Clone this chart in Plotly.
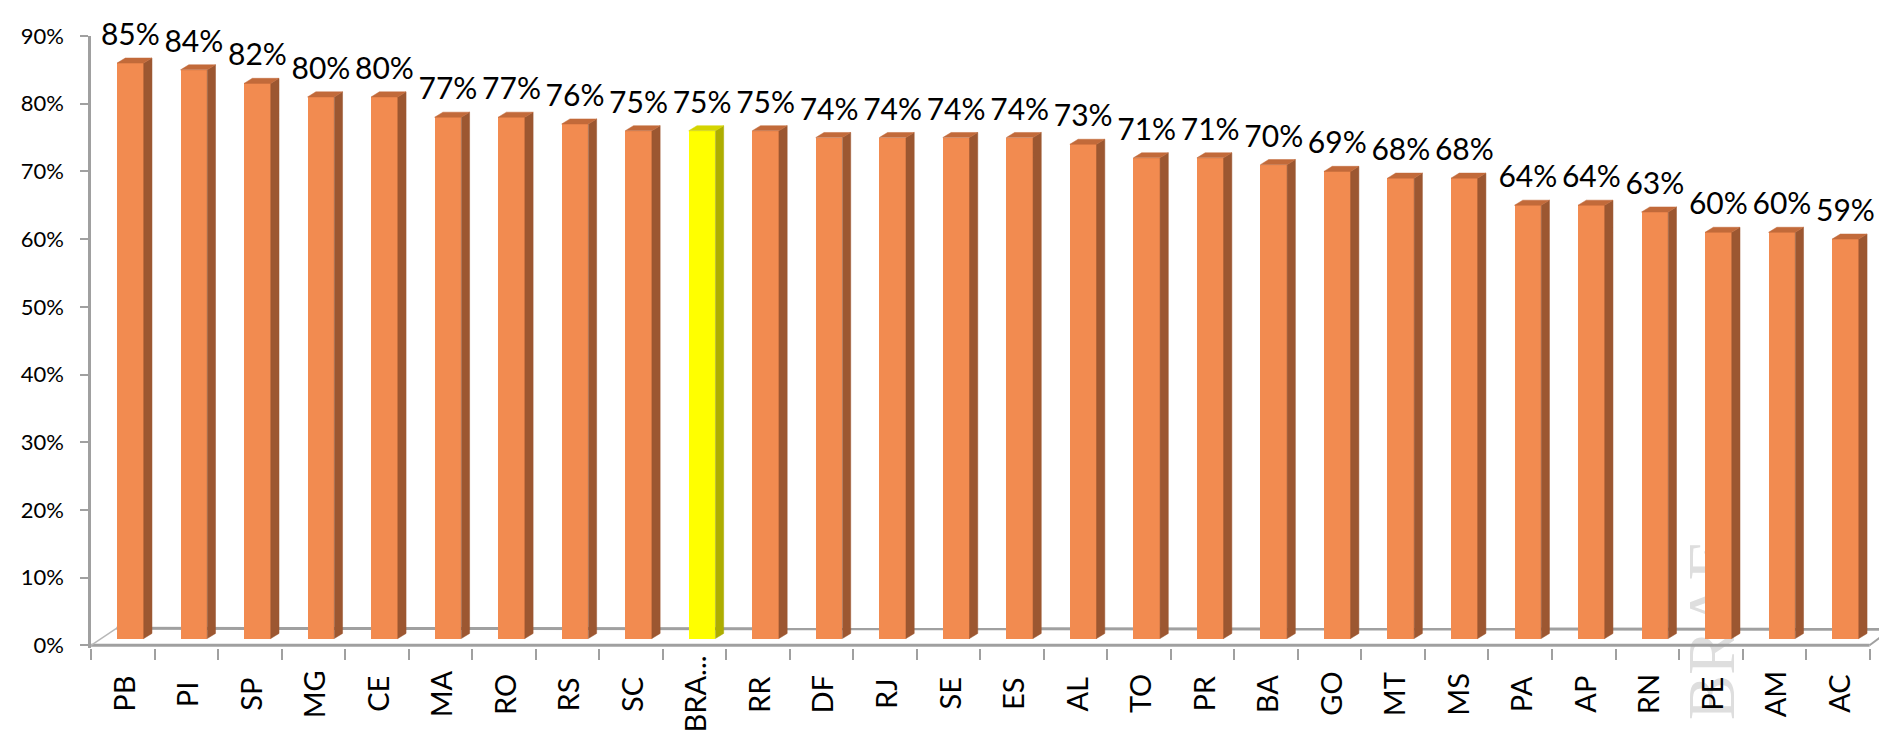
import plotly.graph_objects as go

# ---- data ----
states = ["PB", "PI", "SP", "MG", "CE", "MA", "RO", "RS", "SC", "BRA...",
          "RR", "DF", "RJ", "SE", "ES", "AL", "TO", "PR", "BA", "GO",
          "MT", "MS", "PA", "AP", "RN", "PE", "AM", "AC"]
values = [85, 84, 82, 80, 80, 77, 77, 76, 75, 75,
          75, 74, 74, 74, 74, 73, 71, 71, 70, 69,
          68, 68, 64, 64, 63, 60, 60, 59]
highlight = "BRA..."
y_ticks = [0, 10, 20, 30, 40, 50, 60, 70, 80, 90]
watermark = "BRAE"

# ---- style / geometry (pseudo 3D) ----
FRONT_OFF = 0.12   # shift of front face from category centre
FRONT_W = 0.42     # front face width (category units)
SIDE_W = 0.13      # depth in x (category units)
TOP_H = 0.75       # depth in y (value units)
BASE = 1.0         # bars stand slightly back on the floor
FLOOR_D = 2.5      # floor depth in value units
FLOOR_DX = 0.4

ORANGE = dict(front="#F28B50", side="#9C5731", top="#C26A3A")
YELLOW = dict(front="#FFFF00", side="#ADAD00", top="#D4D400")
GRID = "#A0A0A0"
FONT = "Lato"

n = len(states)
xs = list(range(n))
pal = [YELLOW if s == highlight else ORANGE for s in states]

fig = go.Figure()

# front faces
fig.add_trace(go.Bar(
    x=[i + FRONT_OFF for i in xs], y=values, base=BASE, width=FRONT_W,
    marker=dict(color=[p["front"] for p in pal], line=dict(width=0)),
    hoverinfo="skip", showlegend=False))

# side and top faces, grouped by colour
for p in (ORANGE, YELLOW):
    sx, sy, tx, ty = [], [], [], []
    for i, v, q in zip(xs, values, pal):
        if q is not p:
            continue
        xr = i + FRONT_OFF + FRONT_W / 2
        xl = xr - FRONT_W
        top = BASE + v
        sx += [xr, xr + SIDE_W, xr + SIDE_W, xr, xr, None]
        sy += [BASE, BASE + TOP_H, top + TOP_H, top, BASE, None]
        tx += [xl, xr, xr + SIDE_W, xl + SIDE_W, xl, None]
        ty += [top, top, top + TOP_H, top + TOP_H, top, None]
    fig.add_trace(go.Scatter(x=sx, y=sy, mode="lines", fill="toself",
                             fillcolor=p["side"], line=dict(width=0.5, color=p["side"]),
                             hoverinfo="skip", showlegend=False))
    fig.add_trace(go.Scatter(x=tx, y=ty, mode="lines", fill="toself",
                             fillcolor=p["top"], line=dict(width=0.5, color=p["top"]),
                             hoverinfo="skip", showlegend=False))

# value labels
fig.add_trace(go.Scatter(
    x=[i + FRONT_OFF for i in xs], y=[BASE + v + TOP_H + 0.8 for v in values],
    mode="text", text=[f"{v}%" for v in values], textposition="top center",
    textfont=dict(family=FONT, size=30, color="black"),
    cliponaxis=False, hoverinfo="skip", showlegend=False))

# floor (drawn below the bars)
left, right = -0.5, n - 0.5
shapes = [
    dict(type="line", xref="x", yref="y", x0=left, y0=0, x1=right, y1=0,
         line=dict(color=GRID, width=3), layer="below"),
    dict(type="line", xref="x", yref="y", x0=right, y0=0, x1=right + FLOOR_DX * 0.85, y1=FLOOR_D * 0.95,
         line=dict(color=GRID, width=2), layer="below"),
    dict(type="line", xref="x", yref="y", x0=left, y0=0, x1=left + FLOOR_DX, y1=FLOOR_D,
         line=dict(color="#B8B8B8", width=1.5), layer="below"),
    dict(type="line", xref="x", yref="y", x0=left + FLOOR_DX, y0=FLOOR_D,
         x1=right + FLOOR_DX * 0.85, y1=FLOOR_D * 0.95,
         line=dict(color=GRID, width=3), layer="below"),
    # faint watermark behind the bars
    dict(type="rect", xref="paper", yref="paper", x0=0.869, x1=0.919, y0=-0.12, y1=0.18,
         line=dict(width=0), fillcolor="rgba(0,0,0,0)", layer="below",
         label=dict(text=watermark, textangle=-90, textposition="middle center",
                    font=dict(family="Liberation Serif", size=68, color="#DEDEDE"))),
]

# category labels (rotated, centred under each category)
annotations = [
    dict(x=i, y=0, xref="x", yref="paper", yshift=-46, text=s, textangle=-90,
         showarrow=False, xanchor="center", yanchor="middle",
         font=dict(family=FONT, size=29, color="black"))
    for i, s in zip(xs, states)
]

fig.update_layout(
    width=1887, height=733, autosize=False,
    margin=dict(l=83, r=0, t=28, b=93),
    plot_bgcolor="white", paper_bgcolor="white",
    bargap=0, shapes=shapes, annotations=annotations,
    xaxis=dict(range=[left, right + 0.4], showgrid=False, zeroline=False,
               showline=False, tickmode="array",
               tickvals=[i - 0.5 for i in range(n + 1)],
               ticks="outside", ticklen=11, tickwidth=2, tickcolor=GRID,
               showticklabels=False),
    yaxis=dict(range=[-0.4, 90], showgrid=False, zeroline=False,
               showline=True, linecolor=GRID, linewidth=2.5,
               tickmode="array", tickvals=y_ticks,
               ticktext=[f"{t}%" for t in y_ticks],
               ticks="outside", ticklen=8, tickwidth=2, tickcolor=GRID,
               ticklabelstandoff=12,
               tickfont=dict(family=FONT, size=22, color="black")),
)

fig.write_html("out.html")
